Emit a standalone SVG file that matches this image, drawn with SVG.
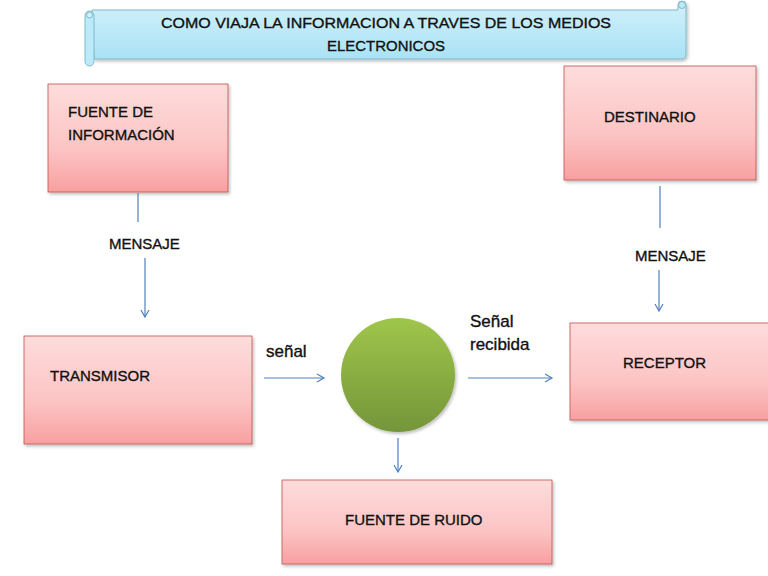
<svg xmlns="http://www.w3.org/2000/svg" width="768" height="576" viewBox="0 0 768 576">
<defs>
<linearGradient id="pink" x1="0" y1="0" x2="0" y2="1">
<stop offset="0" stop-color="#fedcdc"/>
<stop offset="0.6" stop-color="#fcc4c4"/>
<stop offset="1" stop-color="#f8a0a0"/>
</linearGradient>
<linearGradient id="blue" x1="0" y1="0" x2="0" y2="1">
<stop offset="0" stop-color="#d2f1fb"/>
<stop offset="1" stop-color="#a9e2f5"/>
</linearGradient>
<linearGradient id="green" x1="0" y1="0" x2="0" y2="1">
<stop offset="0" stop-color="#9fc64a"/>
<stop offset="1" stop-color="#75953a"/>
</linearGradient>
<filter id="sh" x="-10%" y="-10%" width="125%" height="130%">
<feDropShadow dx="1.5" dy="2" stdDeviation="1.5" flood-color="#000" flood-opacity="0.25"/>
</filter>
<marker id="ah" markerWidth="10" markerHeight="10" refX="8" refY="5" orient="auto" markerUnits="userSpaceOnUse">
<path d="M1,1 L8,5 L1,9" fill="none" stroke="#4f81bd" stroke-width="1.2"/>
</marker>
</defs>
<style>
.box{fill:url(#pink);stroke:#c0504d;stroke-width:0.8;filter:url(#sh)}
.t{font-family:"Liberation Sans",Arial,sans-serif;font-size:15px;fill:#111;stroke:#111;stroke-width:0.35}
.s{font-size:17px}
.ln{stroke:#4f81bd;stroke-width:1.2;fill:none}
</style>
<rect width="768" height="576" fill="#fff"/>
<g id="banner">
<path d="M92,10 L678,10 L678,5 A4,4 0 0 1 686,5 L686,54 Q686,59 681,59 L94,59 Z" fill="url(#blue)" stroke="#7fb9cc" stroke-width="1" filter="url(#sh)"/>
<circle cx="682" cy="5" r="3.5" fill="#bfe9f7" stroke="#7fb9cc" stroke-width="1"/>
<rect x="85" y="11" width="9" height="55" rx="4.5" fill="#bdeaf8" stroke="#7fb9cc" stroke-width="1"/>
<circle cx="89.5" cy="15" r="3" fill="#d2f1fb" stroke="#7fb9cc" stroke-width="1"/>
<text class="t" x="386" y="28" text-anchor="middle" font-size="16.5" textLength="450" lengthAdjust="spacingAndGlyphs">COMO VIAJA LA INFORMACION A TRAVES DE LOS MEDIOS</text>
<text class="t" x="386" y="51" text-anchor="middle" font-size="16.5" textLength="118" lengthAdjust="spacingAndGlyphs">ELECTRONICOS</text>
</g>
<g id="fuente">
<rect class="box" x="48" y="84" width="180" height="108"/>
<text class="t" x="68" y="117">FUENTE DE</text>
<text class="t" x="68" y="140">INFORMACIÓN</text>
</g>
<g id="destinario">
<rect class="box" x="564" y="66" width="192" height="114"/>
<text class="t" x="604" y="122">DESTINARIO</text>
</g>
<g id="transmisor">
<rect class="box" x="24" y="336" width="228" height="108"/>
<text class="t" x="50" y="381">TRANSMISOR</text>
</g>
<g id="receptor">
<rect class="box" x="570" y="323" width="204" height="97"/>
<text class="t" x="623" y="368">RECEPTOR</text>
</g>
<g id="ruido">
<rect class="box" x="282" y="480" width="270" height="84"/>
<text class="t" x="345" y="525">FUENTE DE RUIDO</text>
</g>
<g id="canal">
<circle cx="398" cy="375" r="57" fill="url(#green)" filter="url(#sh)"/>
</g>
<g id="connectors">
<line class="ln" x1="138" y1="193" x2="138" y2="222"/>
<text class="t" x="109" y="249">MENSAJE</text>
<line class="ln" x1="145" y1="258" x2="145" y2="317" marker-end="url(#ah)"/>
<line class="ln" x1="660" y1="186" x2="660" y2="228"/>
<text class="t" x="635" y="261">MENSAJE</text>
<line class="ln" x1="659" y1="270" x2="659" y2="311" marker-end="url(#ah)"/>
<text class="t s" x="266" y="357">señal</text>
<line class="ln" x1="264" y1="378" x2="324" y2="378" marker-end="url(#ah)"/>
<text class="t s" x="470" y="327">Señal</text>
<text class="t s" x="470" y="350">recibida</text>
<line class="ln" x1="468" y1="378" x2="552" y2="378" marker-end="url(#ah)"/>
<line class="ln" x1="398" y1="438" x2="398" y2="472" marker-end="url(#ah)"/>
</g>
</svg>
